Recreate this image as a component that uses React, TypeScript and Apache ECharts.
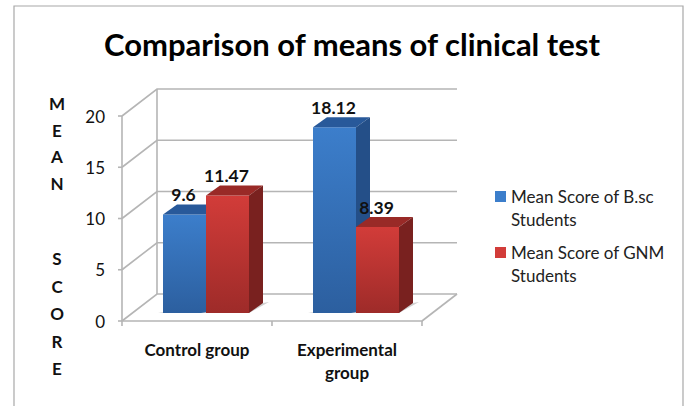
import React, { useEffect, useRef } from "react";
import * as echarts from "echarts";

const categories = ["Control group", "Experimental\ngroup"];
const bscScores = [9.6, 18.12];
const gnmScores = [11.47, 8.39];
const yTicks = [0, 5, 10, 15, 20];
const titleText = "Comparison of means of clinical test";
const bscName = "Mean Score of B.sc Students";
const gnmName = "Mean Score of GNM Students";
// The leading blank line puts the first text line level with the legend swatch.
const legendLabels: Record<string, string> = {
  [bscName]: "\nMean Score of B.sc\nStudents",
  [gnmName]: "\nMean Score of GNM\nStudents",
};

const FONT = "Lato, 'Open Sans', sans-serif";
const DEPTH_X = 35;
const DEPTH_Y = 27;
const BAR_SHIFT_X = 9;
const BAR_SHIFT_Y = 8;
const BAR_W = 43;
const BAR_D_X = 14;
const BAR_D_Y = 10;
const WALL = "#b5b5b5";

type Palette = { top0: string; top1: string; cap: string; side: string };
const bluePal: Palette = { top0: "#3c7ecb", top1: "#2c5f9f", cap: "#28599a", side: "#244f88" };
const redPal: Palette = { top0: "#d23c39", top1: "#9e2b29", cap: "#992a27", side: "#79211f" };

function barRenderer(pal: Palette, offset: number) {
  return (_p: any, api: any) => {
    const cat = api.value(0);
    const val = api.value(1);
    const top = api.coord([cat, val]);
    const base = api.coord([cat, 0]);
    const x0 = top[0] + BAR_SHIFT_X + offset * BAR_W;
    const x1 = x0 + BAR_W;
    const yT = top[1] - BAR_SHIFT_Y;
    const yB = base[1] - BAR_SHIFT_Y;
    const dx = BAR_D_X;
    const dy = BAR_D_Y;
    return {
      type: "group",
      children: [
        {
          type: "polygon",
          shape: { points: [[x0 - 5, yB], [x1, yB], [x1 + dx + 6, yB - dy - 1], [x1 + dx, yB - dy]] },
          style: { fill: "#cfcfcf" },
        },
        {
          type: "rect",
          shape: { x: x0, y: yT, width: BAR_W, height: yB - yT },
          style: {
            fill: new echarts.graphic.LinearGradient(0, 0, 0, 1, [
              { offset: 0, color: pal.top0 },
              { offset: 1, color: pal.top1 },
            ]),
          },
        },
        {
          type: "polygon",
          shape: { points: [[x0, yT], [x0 + dx, yT - dy], [x1 + dx, yT - dy], [x1, yT]] },
          style: { fill: pal.cap },
        },
        {
          type: "polygon",
          shape: { points: [[x1, yT], [x1 + dx, yT - dy], [x1 + dx, yB - dy], [x1, yB]] },
          style: { fill: pal.side },
        },
        {
          type: "text",
          z2: 20,
          style: {
            text: String(val),
            x: (x0 + x1) / 2 - 1,
            y: yT - 20,
            align: "center",
            verticalAlign: "middle",
            font: `bold 17.5px ${FONT}`,
            fill: "#111",
          },
        },
      ],
    };
  };
}

function wallRenderer(p: any, api: any) {
  const v = api.value(0);
  const y = api.coord([0, v])[1];
  const cs: any = p.coordSys;
  const xL = cs.x;
  const xR = cs.x + cs.width;
  const line = (pts: number[][]) => ({
    type: "polyline",
    shape: { points: pts },
    style: { stroke: WALL, lineWidth: 1.6, fill: "none" },
  });
  const children: any[] = [
    line([[xL, y], [xL + DEPTH_X, y - DEPTH_Y], [xR + DEPTH_X, y - DEPTH_Y]]),
    line([[xL - 4, y], [xL, y]]),
  ];
  if (v === 0) {
    children.push(line([[xR + DEPTH_X, y - DEPTH_Y], [xR, y]]));
    children.push(line([[xL, y], [xL, cs.y]]));
    children.push(line([[xL + DEPTH_X, y - DEPTH_Y], [xL + DEPTH_X, cs.y - DEPTH_Y]]));
  }
  return { type: "group", children };
}

export default function App() {
  const ref = useRef<HTMLDivElement>(null);
  useEffect(() => {
    document.body.style.margin = "0";
    const chart = echarts.init(ref.current!, undefined, { renderer: "svg" });
    chart.setOption({
      animation: false,
      backgroundColor: "#fff",
      title: {
        text: titleText,
        left: 347,
        top: 23,
        textAlign: "center",
        textStyle: { fontFamily: FONT, fontSize: 31, fontWeight: "bold", color: "#000" },
      },
      grid: { left: 122, top: 116, width: 300, height: 205 },
      xAxis: {
        type: "category",
        data: categories,
        axisLine: { lineStyle: { color: WALL, width: 1.6 } },
        axisTick: { show: true, length: 5, lineStyle: { color: WALL, width: 1.6 } },
        axisLabel: {
          fontFamily: FONT,
          fontSize: 17,
          fontWeight: "bold",
          color: "#111",
          lineHeight: 23,
          margin: 17,
        },
      },
      yAxis: {
        type: "value",
        min: 0,
        max: 20,
        interval: 5,
        splitLine: { show: false },
        axisLine: { show: false },
        axisTick: { show: false },
        axisLabel: { fontFamily: FONT, fontSize: 17, color: "#111", margin: 17 },
      },
      legend: {
        orient: "vertical",
        left: 495,
        top: 162,
        padding: 0,
        itemWidth: 11,
        itemHeight: 11,
        itemGap: -13,
        icon: "rect",
        data: [
          { name: bscName, itemStyle: { color: bluePal.top0 } },
          { name: gnmName, itemStyle: { color: redPal.top0 } },
        ],
        formatter: (n: string) => legendLabels[n],
        textStyle: { fontFamily: FONT, fontSize: 17, color: "#222", lineHeight: 23 },
      },
      graphic: [
        {
          type: "rect",
          silent: true,
          z: -1,
          shape: { x: 14, y: 6, width: 669, height: 420 },
          style: { fill: "none", stroke: "#a8a8a8", lineWidth: 1.2 },
        },
        {
          type: "text",
          style: {
            text: "M\nE\nA\nN",
            x: 57,
            y: 90,
            align: "center",
            font: `bold 17px ${FONT}`,
            lineHeight: 26.7,
            fill: "#111",
          },
        },
        {
          type: "text",
          style: {
            text: "S\nC\nO\nR\nE",
            x: 57,
            y: 245,
            align: "center",
            font: `bold 17px ${FONT}`,
            lineHeight: 27.5,
            fill: "#111",
          },
        },
      ],
      series: [
        {
          type: "custom",
          silent: true,
          z: 1,
          renderItem: wallRenderer,
          encode: { y: 0 },
          data: yTicks.map((v) => [v]),
          tooltip: { show: false },
        },
        {
          type: "custom",
          name: bscName,
          z: 3,
          renderItem: barRenderer(bluePal, -1),
          encode: { x: 0, y: 1 },
          data: bscScores.map((v, i) => [i, v]),
          itemStyle: { color: bluePal.top0 },
        },
        {
          type: "custom",
          name: gnmName,
          z: 4,
          renderItem: barRenderer(redPal, 0),
          encode: { x: 0, y: 1 },
          data: gnmScores.map((v, i) => [i, v]),
          itemStyle: { color: redPal.top0 },
        },
      ],
    });
    return () => chart.dispose();
  }, []);
  return <div ref={ref} style={{ width: 688, height: 406 }} />;
}
